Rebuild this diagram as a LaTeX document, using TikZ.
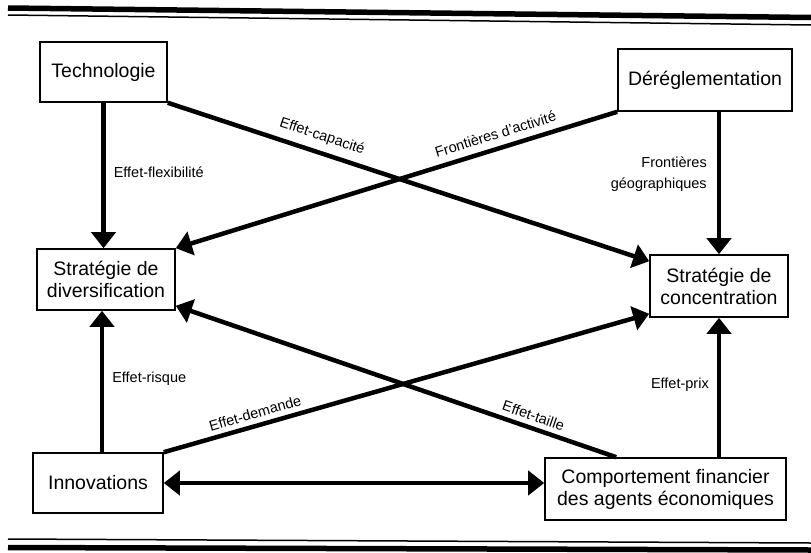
\documentclass[tikz,border=0pt]{standalone}
\usepackage{fontspec}
\setmainfont{Liberation Sans}
\usetikzlibrary{arrows.meta,calc}
\begin{document}
\begin{tikzpicture}[x=1pt,y=-1pt,
  box/.style={draw, line width=1.6pt, align=center, font=\fontsize{19.5}{22}\selectfont, inner sep=0pt},
  link/.style={line width=4.5pt, -{Triangle[width=24pt,length=16pt]}},
  dlink/.style={line width=4.5pt, {Triangle[width=24pt,length=16pt]}-{Triangle[width=24pt,length=16pt]}},
  lab/.style={font=\fontsize{14.5}{21}\selectfont, inner sep=1pt, align=right},
  rulethick/.style={line width=5.5pt},
  rulethin/.style={line width=1.5pt},
]
\useasboundingbox (0,0) rectangle (811,552);

% rules
\draw[rulethick] (8,8) -- (811,17.5);
\draw[rulethin] (8,15) -- (811,25);
\draw[rulethin] (8,539) -- (811,543);
\draw[rulethick] (8,547.5) -- (811,550);

% boxes
\node[box, minimum width=127pt, minimum height=60pt] (tech) at (103.5,72) {Technologie};
\node[box, minimum width=174pt, minimum height=62pt] (dereg) at (705,80) {Déréglementation};
\node[box, minimum width=138pt, minimum height=61pt] (div) at (106,279.5) {Stratégie de\\diversification};
\node[box, minimum width=138pt, minimum height=62pt] (conc) at (719,286) {Stratégie de\\concentration};
\node[box, minimum width=130pt, minimum height=60pt] (innov) at (98,483) {Innovations};
\node[box, minimum width=241pt, minimum height=62pt] (comp) at (665.5,489) {Comportement financier\\des agents économiques};

% vertical arrows
\draw[link] (tech.south) -- node[lab, right=7pt, pos=0.476] {Effet-flexibilité} (tech.south |- div.north);
\draw[link] (conc.north |- dereg.south) -- node[lab, left=9pt, pos=0.44] {Frontières\\géographiques} (conc.north);
\draw[link] ([xshift=4pt]innov.north) -- node[lab, right=7pt, pos=0.52] {Effet-risque} ([xshift=4pt]innov.north |- div.south);
\draw[link] (conc.south |- comp.north) -- node[lab, left=7pt, pos=0.52] {Effet-prix} (conc.south);

% diagonal arrows
\draw[link] (tech.south east) -- node[lab, sloped, above=6pt, pos=0.31] {Effet-capacité} ([yshift=-7pt]conc.north west);
\draw[link] (dereg.south west) -- node[lab, sloped, above=6pt, pos=0.266] {Frontières d'activité} (div.north east);
\draw[link] (innov.north east) -- node[lab, sloped, above=4pt, pos=0.195] {Effet-demande} ([yshift=4pt]conc.south west);
\draw[link] ([xshift=72pt]comp.north west) -- node[lab, sloped, above=4pt, pos=0.197] {Effet-taille} ([yshift=5pt]div.south east);

% horizontal double arrow
\draw[dlink] (innov.east) -- (innov.east -| comp.west);
\end{tikzpicture}
\end{document}
